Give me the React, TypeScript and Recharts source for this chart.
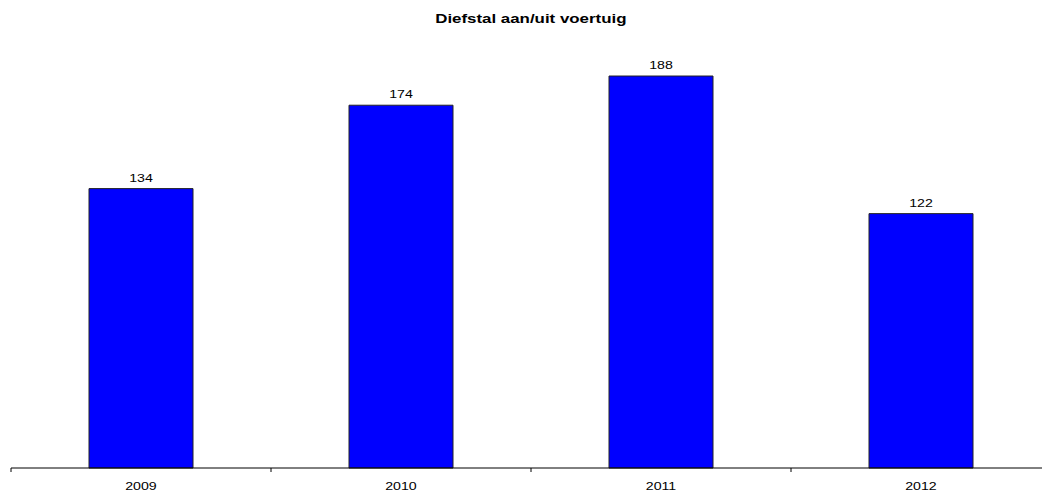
import { BarChart, Bar, XAxis, YAxis, LabelList } from "recharts";

const YEARS = ["2009", "2010", "2011", "2012"];
const THEFTS = [134, 174, 188, 122];
// category boundaries, drawn as small tick marks on the base line
const EDGE_TICKS = [0, 1, 2, 3, 4];

const data = YEARS.map((year, i) => ({ year, value: THEFTS[i], slot: i + 0.5 }));

const FONT = "'Liberation Sans', Arial, Helvetica, sans-serif";
// the source chart is stretched horizontally
const STRETCH = 1.35;

function YearTick({ x, y, payload }: { x?: number; y?: number; payload?: { value: string } }) {
  return (
    <text
      transform={`translate(${x},${(y ?? 0) + 10}) scale(${STRETCH},1)`}
      textAnchor="middle"
      fontSize={10.5}
      fontFamily={FONT}
      fill="#000"
    >
      {payload?.value}
    </text>
  );
}

function ValueLabel(props: any) {
  const { x, y, width, value } = props;
  return (
    <text
      transform={`translate(${x + width / 2},${y - 7}) scale(${STRETCH},1)`}
      textAnchor="middle"
      fontSize={10.5}
      fontFamily={FONT}
      fill="#000"
    >
      {value}
    </text>
  );
}

export default function App() {
  return (
    <div
      style={{
        position: "fixed",
        left: 0,
        top: 0,
        width: 1042,
        height: 491,
        overflow: "hidden",
        background: "#fff",
      }}
    >
      <div
        style={{
          position: "absolute",
          left: 0,
          top: 13,
          width: 1062,
          textAlign: "center",
          lineHeight: "12.5px",
          fontFamily: FONT,
          fontSize: 12.5,
          fontWeight: "bold",
          color: "#000",
        }}
      >
        <span style={{ display: "inline-block", transform: `scaleX(${STRETCH})` }}>
          Diefstal aan/uit voertuig
        </span>
      </div>
      <BarChart
        width={1062}
        height={491}
        data={data}
        margin={{ top: 51, right: 11, bottom: 0, left: 11 }}
        barCategoryGap="30%"
      >
        <XAxis
          xAxisId="a_edges"
          type="number"
          dataKey="slot"
          domain={[0, 4]}
          ticks={EDGE_TICKS}
          tick={() => <g />}
          tickSize={4}
          height={4}
          stroke="#000"
          axisLine={{ stroke: "#000" }}
          tickLine={{ stroke: "#000" }}
          allowDataOverflow
        />
        <XAxis
          xAxisId="b_years"
          dataKey="year"
          height={19}
          axisLine={false}
          tickLine={false}
          tick={<YearTick />}
          interval={0}
        />
        <YAxis hide domain={[0, 200]} />
        <Bar
          xAxisId="b_years"
          dataKey="value"
          fill="#0000ff"
          stroke="#222"
          strokeWidth={1}
          isAnimationActive={false}
        >
          <LabelList dataKey="value" content={<ValueLabel />} />
        </Bar>
      </BarChart>
    </div>
  );
}
